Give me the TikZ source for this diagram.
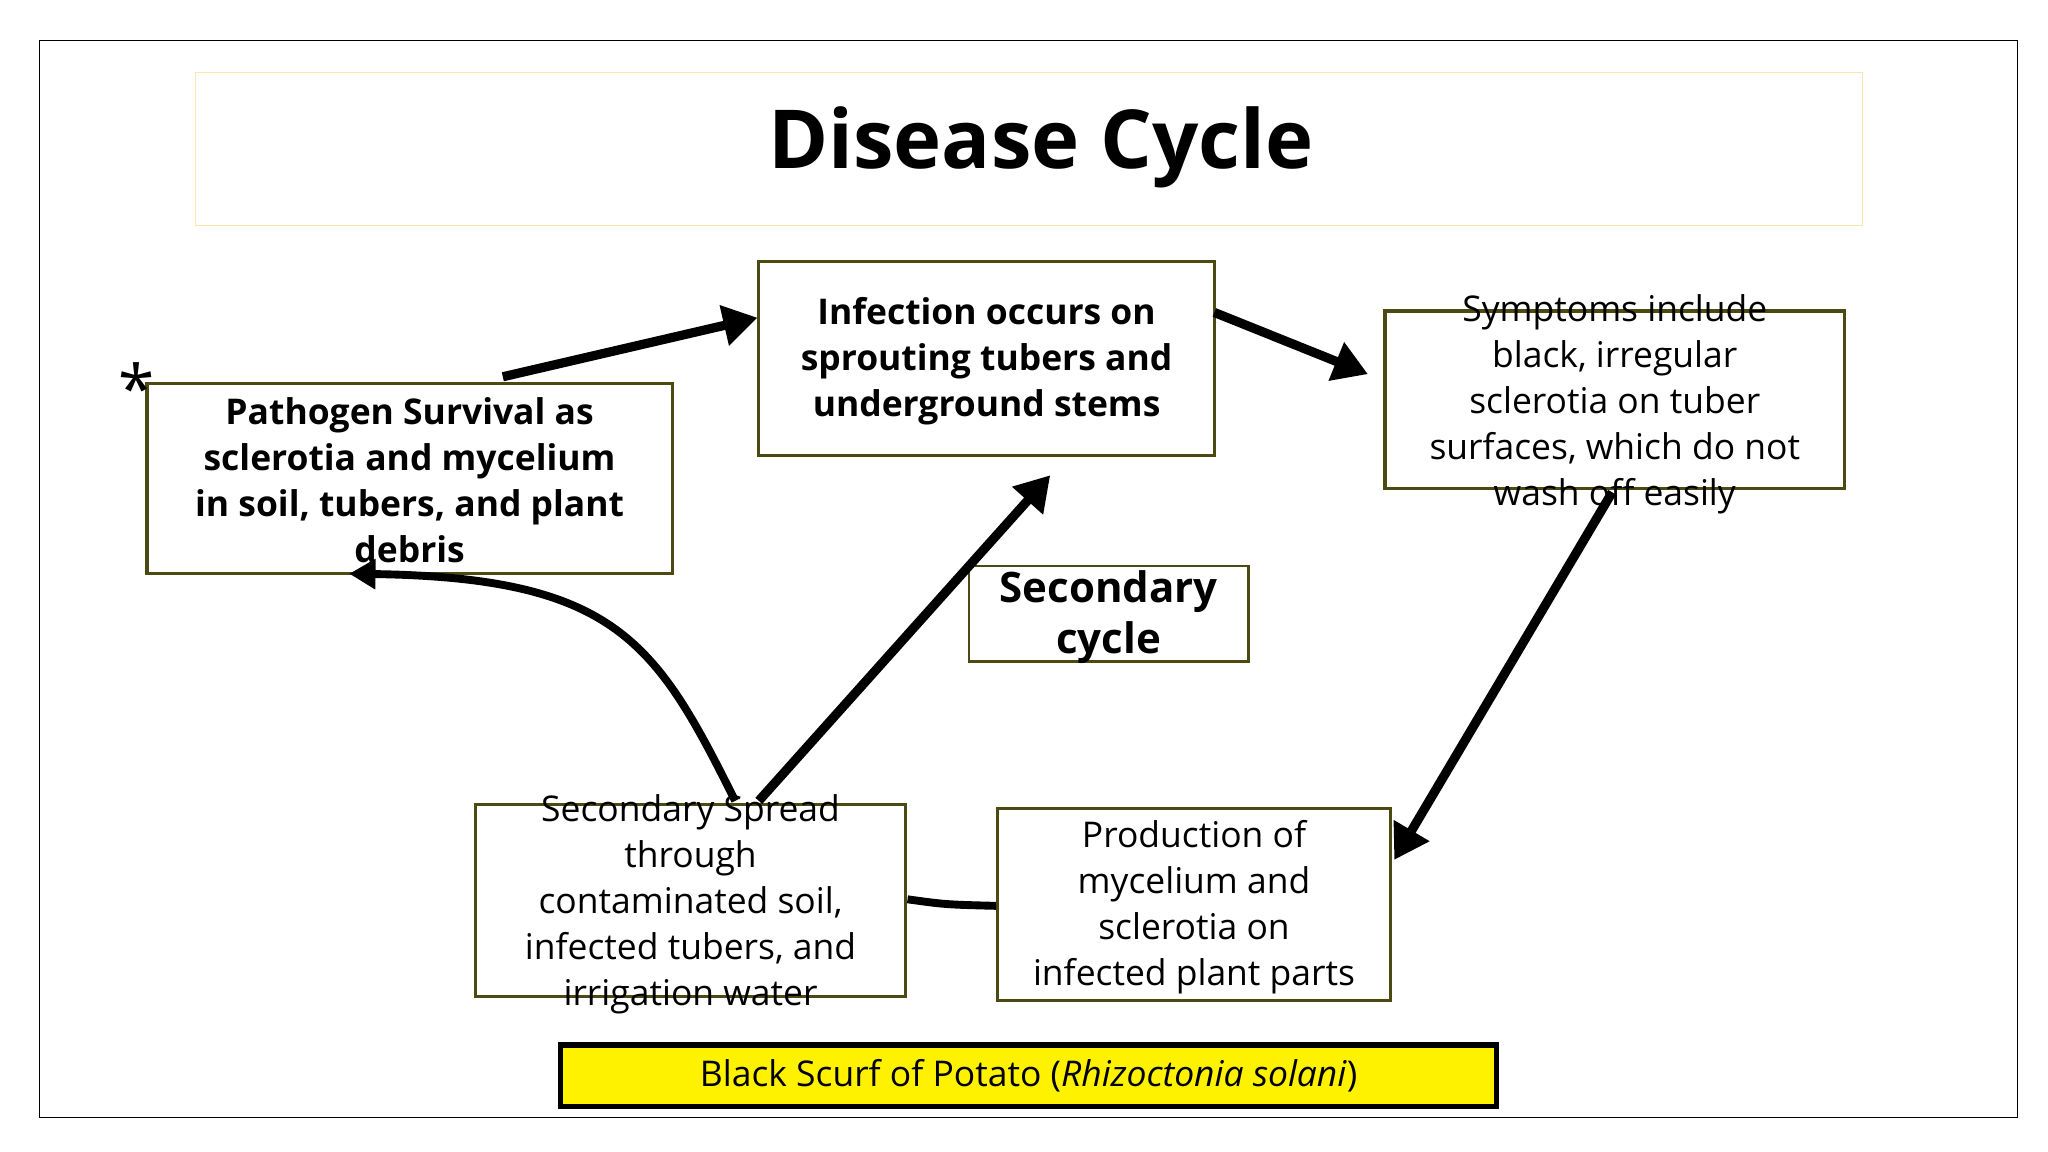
\documentclass[tikz,border=0pt]{standalone}
\usepackage{fontspec}
\setmainfont{Open Sans}
\usetikzlibrary{arrows.meta}
\definecolor{olive}{HTML}{4A4A12}
\begin{document}
\begin{tikzpicture}[x=1pt,y=-1pt,
  box/.style={draw=olive,line width=2.5pt,align=center,inner sep=0pt},
  arr/.style={line width=7pt,-{Triangle[length=26pt,width=30pt]}},
  txt/.style={font=\fontsize{27}{35}\selectfont,align=center}]
\useasboundingbox (0,0) rectangle (1560,877.5);
\draw[line width=1pt] (30,31) rectangle (1537,851);
\node[draw=yellow!40!orange!30,line width=0.8pt,minimum width=1270pt,minimum height=117pt] (title) at (784,113.5) {};
\node[font=\fontsize{62}{70}\selectfont\bfseries] (tt) at (793,112) {Disease Cycle};
\node[box,minimum width=400pt,minimum height=145pt] (path) at (312,364.5) {};
\node[txt,font=\fontsize{27}{35}\selectfont\bfseries] (patht) at (312,366) {Pathogen Survival as\\sclerotia and mycelium\\in soil, tubers, and plant\\debris};
\node[font=\fontsize{50}{50}\selectfont] (star) at (104,295) {*};
\node[box,minimum width=347pt,minimum height=148pt] (inf) at (751.5,273) {};
\node[txt,font=\fontsize{27}{35}\selectfont\bfseries] (inft) at (751.5,275) {Infection occurs on\\sprouting tubers and\\underground stems};
\node[box,minimum width=350pt,minimum height=135pt] (sym) at (1230,304.5) {};
\node[txt] (symt) at (1230,308) {Symptoms include\\black, irregular\\sclerotia on tuber\\surfaces, which do not\\wash off easily};
\node[box,line width=2pt,minimum width=213pt,minimum height=73pt] (sec) at (844.5,467.5) {};
\node[txt,font=\fontsize{32}{39}\selectfont\bfseries] (sect) at (844.5,470) {Secondary\\cycle};
\node[box,minimum width=328pt,minimum height=146pt] (spr) at (526,686) {};
\node[txt] (sprt) at (526,689) {Secondary Spread\\through\\contaminated soil,\\infected tubers, and\\irrigation water};
\node[box,minimum width=299pt,minimum height=146pt] (prod) at (909.5,689) {};
\node[txt] (prodt) at (909.5,691) {Production of\\mycelium and\\sclerotia on\\infected plant parts};
\node[draw=black,fill=yellow,line width=4pt,minimum width=713pt,minimum height=47pt,font=\fontsize{27}{35}\selectfont] (lab) at (783.5,819.5) {Black Scurf of Potato (\textit{Rhizoctonia solani})};
\coordinate (a1s) at (383,287); \coordinate (a1e) at (577,242);
\coordinate (a2s) at (925,238); \coordinate (a2e) at (1042,285);
\coordinate (a3s) at (1228,375); \coordinate (a3e) at (1062,655);
\coordinate (a5s) at (578,610); \coordinate (a5e) at (800,362);
\coordinate (a6s) at (560,610); \coordinate (a6e) at (266,437);
\draw[arr] (a1s) -- (a1e);
\draw[arr] (a2s) -- (a2e);
\draw[arr] (a3s) -- (a3e);
\draw[arr] (a5s) -- (a5e);
\draw[line width=6pt,-{Triangle[length=20pt,width=22pt]}] (a6s) .. controls (500,490) and (470,440) .. (a6e);
\draw[line width=6pt] (spr.east |- 0,685) .. controls (720,689) .. (prod.west |- 0,690);
\end{tikzpicture}
\end{document}
